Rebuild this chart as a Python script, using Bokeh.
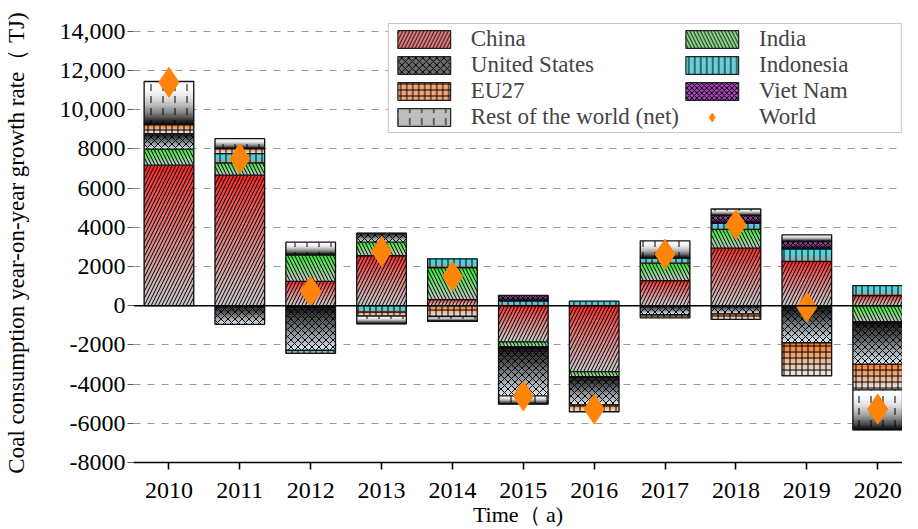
import numpy as np
from bokeh.plotting import figure
from bokeh.models import ColumnDataSource, FixedTicker, Span, Legend, LegendItem
from bokeh.embed import file_html
from bokeh.resources import INLINE

# ---------------- data (TJ, year-on-year change) ----------------
years = [2010, 2011, 2012, 2013, 2014, 2015, 2016, 2017, 2018, 2019, 2020]
china = [7170, 6665, 1245, 2550, 310, -1840, -3360, 1280, 2940, 2260, 520]
india = [815, 625, 1355, 690, 1640, -250, -255, 895, 960, 0, -820]
united_states = [795, -955, -2280, 460, 0, -2510, -1440, -450, -415, -1890, -2170]
indonesia = [0, 470, -150, -330, 445, 250, 230, 255, 305, 645, 510]
eu27 = [455, 255, 0, -205, -560, 0, -355, -170, -285, -1690, -1300]
viet_nam = [0, 0, 0, 0, 0, 270, 0, 0, 390, 370, 0]
rest_of_world = [2205, 510, 640, -390, -240, -420, 0, 880, 340, 340, -2050]
world = [11400, 7510, 740, 2770, 1500, -4600, -5275, 2630, 4125, -75, -5275]

y_ticks = [-8000, -6000, -4000, -2000, 0, 2000, 4000, 6000, 8000, 10000, 12000, 14000]
y_tick_labels = ["-8000", "-6000", "-4000", "-2000", "0", "2000", "4000", "6000",
                 "8000", "10,000", "12,000", "14,000"]

series_names = ["China", "India", "United States", "Indonesia", "EU27", "Viet Nam",
                "Rest of the world (net)"]
series_values = [china, india, united_states, indonesia, eu27, viet_nam, rest_of_world]

x_title = "Time（ a)"
y_title = "Coal consumption year-on-year growth rate（ TJ)"

# styles: (top colour, bottom colour, hatch, hatch scale, legend colour, gradient power)
styles = {
    "China": ("#f62222", "#cacaca", "/", 7, "#e68080", 0.8),
    "India": ("#2cec2c", "#c4c4c4", "\\", 7, "#92dc92", 1.0),
    "United States": ("#050505", "#dbe6ee", "x", 7, "#6c6c6c", 1.0),
    "Indonesia": ("#2ee4f0", "#a4a4a4", "|", 6, "#66cfd8", 1.3),
    "EU27": ("#f47628", "#e8e8e8", "+", 6, "#f2a676", 1.0),
    "Viet Nam": ("#d858ea", "#1c0c1c", "x", 5, "#a444b4", 1.0),
    "Rest of the world (net)": ("#ffffff", "#000000", ":", 12, "#bdbdbd", 2.2),
}

FONT = "Liberation Serif"
N_SLICES = 18
BAR_W = 0.7
X0, X1 = 2009.5, 2020.35


def hex2rgb(h):
    h = h.lstrip("#")
    return np.array([int(h[i:i + 2], 16) for i in (0, 2, 4)], float)


def rgb2hex(c):
    c = np.clip(np.round(c), 0, 255).astype(int)
    return "#%02x%02x%02x" % tuple(c)


p = figure(width=902, height=529, output_backend="svg", toolbar_location=None,
           x_range=(X0, X1), y_range=(-8000, 14400),
           min_border_top=23, min_border_right=0, min_border_left=0, min_border_bottom=66)
p.outline_line_color = None
p.background_fill_color = "white"
p.border_fill_color = "white"

# grid
p.xgrid.visible = False
p.ygrid.ticker = FixedTicker(ticks=y_ticks)
p.ygrid.grid_line_color = "#9a9a9a"
p.ygrid.grid_line_dash = "7 7"
p.ygrid.grid_line_width = 1.2

# stacked segments
pos = np.zeros(len(years))
neg = np.zeros(len(years))
x = np.array(years, float)
legend_items = {}
for name, vals in zip(series_names, series_values):
    v = np.array(vals, float)
    bottom = np.where(v >= 0, pos, neg + v)
    top = np.where(v >= 0, pos + v, neg)
    pos = np.where(v >= 0, pos + v, pos)
    neg = np.where(v < 0, neg + v, neg)
    mask = v != 0
    tc, bc, hatch, hscale, lc, gpow = styles[name]
    c_top, c_bot = hex2rgb(tc), hex2rgb(bc)
    # gradient slices
    gl, gr, gt, gb, gcol = [], [], [], [], []
    for xi, t, b in zip(x[mask], top[mask], bottom[mask]):
        edges = np.linspace(t, b, N_SLICES + 1)
        for k in range(N_SLICES):
            f = ((k + 0.5) / N_SLICES) ** gpow
            gl.append(xi - BAR_W / 2)
            gr.append(xi + BAR_W / 2)
            gt.append(edges[k])
            gb.append(edges[k + 1])
            gcol.append(rgb2hex(c_top * (1 - f) + c_bot * f))
    gsrc = ColumnDataSource(dict(left=gl, right=gr, top=gt, bottom=gb, color=gcol))
    p.quad(left="left", right="right", top="top", bottom="bottom", source=gsrc,
           fill_color="color", line_color="color", line_width=0.6)
    # hatch overlay + outline
    hsrc = ColumnDataSource(dict(left=x[mask] - BAR_W / 2, right=x[mask] + BAR_W / 2,
                                 top=top[mask], bottom=bottom[mask]))
    p.quad(left="left", right="right", top="top", bottom="bottom", source=hsrc,
           fill_color=None, hatch_pattern=hatch, hatch_color="black", hatch_scale=hscale,
           hatch_weight=1.0, line_color="#111111", line_width=1.3)
    # legend-only renderer
    lsrc = ColumnDataSource(dict(left=[np.nan], right=[np.nan], top=[np.nan], bottom=[np.nan]))
    lr = p.quad(left="left", right="right", top="top", bottom="bottom", source=lsrc,
                fill_color=lc, hatch_pattern=hatch, hatch_color="black", hatch_scale=hscale,
                hatch_weight=1.0, line_color="#222222", line_width=1.2)
    legend_items[name] = lr

# zero line
p.add_layout(Span(location=0, dimension="width", line_color="black", line_width=1.6))

# world markers
wr = p.scatter(x=years, y=world, marker="diamond", size=30, fill_color="#ff8408",
               line_color="#ff8408")
legend_items["World"] = wr

order = ["China", "United States", "EU27", "Rest of the world (net)",
         "India", "Indonesia", "Viet Nam", "World"]
legend = Legend(items=[LegendItem(label=n, renderers=[legend_items[n]]) for n in order],
                location="top_right", orientation="vertical", nrows=4)
legend.label_text_font = FONT
legend.label_text_font_size = "23px"
legend.label_height = 20
legend.label_width = 140
legend.glyph_width = 66
legend.glyph_height = 22
legend.label_standoff = 14
legend.spacing = 0
legend.padding = 2
legend.margin = 0
legend.border_line_color = "#8a8a8a"
legend.border_line_width = 1
legend.background_fill_alpha = 1
p.add_layout(legend)

# axes
p.xaxis.ticker = FixedTicker(ticks=years)
p.xaxis.axis_label = x_title
p.xaxis.axis_line_color = "black"
p.xaxis.axis_line_width = 1.6
p.xaxis.major_tick_line_color = "black"
p.xaxis.major_tick_line_width = 1.6
p.xaxis.major_tick_out = 7
p.xaxis.major_tick_in = 0
p.xaxis.minor_tick_line_color = None
p.xaxis.major_label_standoff = 13
p.xaxis.axis_label_standoff = 1

p.yaxis.ticker = FixedTicker(ticks=y_ticks)
p.yaxis.major_label_overrides = {t: l for t, l in zip(y_ticks, y_tick_labels)}
p.yaxis.axis_label = y_title
p.yaxis.axis_line_color = None
p.yaxis.major_tick_line_color = "#555555"
p.yaxis.major_tick_line_width = 1.2
p.yaxis.major_tick_out = 6
p.yaxis.major_tick_in = 0
p.yaxis.minor_tick_line_color = None
p.yaxis.major_label_standoff = 2
p.yaxis.axis_label_standoff = 28

for ax in (p.xaxis[0], p.yaxis[0]):
    ax.major_label_text_font = FONT
    ax.major_label_text_font_size = "24px"
    ax.major_label_text_color = "black"
    ax.axis_label_text_font = FONT
    ax.axis_label_text_font_style = "normal"
    ax.axis_label_text_color = "black"
p.xaxis.axis_label_text_font_size = "22px"
p.yaxis.axis_label_text_font_size = "23px"

open("out.html", "w").write(file_html(p, INLINE))
